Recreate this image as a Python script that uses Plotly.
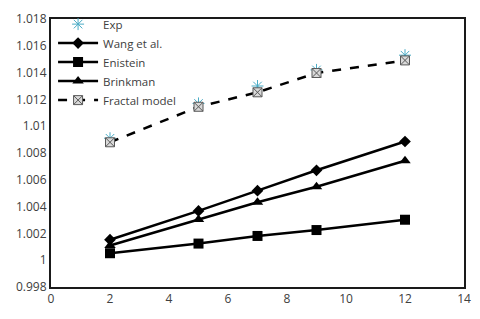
import plotly.graph_objects as go

x_vals = [2, 5, 7, 9, 12]
exp_vals = [1.0091, 1.0117, 1.0130, 1.0142, 1.0153]
wang_vals = [1.00153, 1.00368, 1.00519, 1.00671, 1.00886]
einstein_vals = [1.00052, 1.00124, 1.00181, 1.00225, 1.00302]
brinkman_vals = [1.0011, 1.00304, 1.00433, 1.00548, 1.00742]
fractal_vals = [1.0088, 1.01145, 1.01253, 1.01397, 1.01491]

x_ticks = [0, 2, 4, 6, 8, 10, 12, 14]
y_ticks = [0.998, 1.0, 1.002, 1.004, 1.006, 1.008, 1.01, 1.012, 1.014, 1.016, 1.018]
y_tick_text = ["0.998", "1", "1.002", "1.004", "1.006", "1.008", "1.01", "1.012", "1.014", "1.016", "1.018"]

fig = go.Figure()
fig.add_trace(go.Scatter(x=x_vals, y=exp_vals, name="Exp", mode="markers",
                         marker=dict(symbol="asterisk-open", size=10, color="#4bacc6",
                                     line=dict(color="#4bacc6", width=1))))
fig.add_trace(go.Scatter(x=x_vals, y=wang_vals, name="Wang et al.", mode="lines+markers",
                         line=dict(color="black", width=2.5),
                         marker=dict(symbol="diamond", size=9, color="black")))
fig.add_trace(go.Scatter(x=x_vals, y=einstein_vals, name="Enistein", mode="lines+markers",
                         line=dict(color="black", width=2.5),
                         marker=dict(symbol="square", size=10, color="black")))
fig.add_trace(go.Scatter(x=x_vals, y=brinkman_vals, name="Brinkman", mode="lines+markers",
                         line=dict(color="black", width=2.5),
                         marker=dict(symbol="triangle-up", size=10, color="black")))
fig.add_trace(go.Scatter(x=x_vals, y=fractal_vals, name="Fractal model", mode="lines+markers",
                         line=dict(color="black", width=2.5, dash="dash"),
                         marker=dict(symbol="square-x", size=9, color="#d9d9d9",
                                     line=dict(color="#595959", width=1))))

fig.update_layout(
    width=480, height=319,
    margin=dict(l=43, r=24, t=2, b=40),
    paper_bgcolor="white", plot_bgcolor="white",
    font=dict(family="Open Sans", size=12, color="#404040"),
    showlegend=True,
    legend=dict(x=0.005, y=1.035, xanchor="left", yanchor="top",
                bgcolor="rgba(0,0,0,0)", font=dict(size=11.5, color="#404040"),
                tracegroupgap=0, itemwidth=40),
)
fig.update_xaxes(range=[0, 14], tickvals=x_ticks, showgrid=False, zeroline=False,
                 showline=True, linecolor="#1a1a1a", linewidth=2, mirror=True,
                 ticks="", ticklen=0, automargin=False)
fig.update_yaxes(range=[0.998, 1.018], tickvals=y_ticks, ticktext=y_tick_text,
                 showgrid=False, zeroline=False,
                 showline=True, linecolor="#1a1a1a", linewidth=2, mirror=True,
                 ticks="", ticklen=0, automargin=False)

fig.write_html("out.html")
